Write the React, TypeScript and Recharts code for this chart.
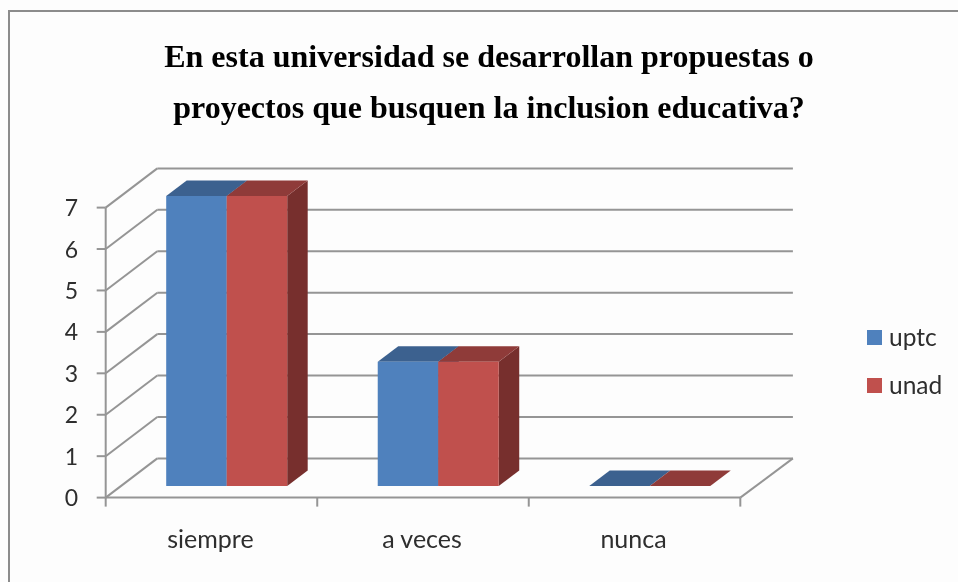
import React from "react";
import { BarChart, Bar, XAxis, YAxis, CartesianGrid, Legend } from "recharts";

const categories = ["siempre", "a veces", "nunca"];
const uptcValues = [7, 3, 0];
const unadValues = [7, 3, 0];
const yTicks = [0, 1, 2, 3, 4, 5, 6, 7];
const titleLines = [
  "En esta universidad se desarrollan propuestas o",
  "proyectos que busquen la inclusion educativa?",
];

const rows = categories.map((name, i) => ({ name, uptc: uptcValues[i], unad: unadValues[i] }));

const W = 958;
const H = 582;
const PLOT_LEFT = 121.2;
const PLOT_RIGHT = 755.8;
const PLOT_TOP = 196;
const PLOT_BOTTOM = 486;
const BAND = (PLOT_RIGHT - PLOT_LEFT) / categories.length;

// wall projection relative to the plane in which bars stand
const FRONT_DX = -15.5;
const FRONT_DY = 11.6;
const BACK_DY = -27.6;
const DEPTH_X = 20.5;
const DEPTH_Y = 15.5;
const GRID = "#959595";
const TEXT = "#2e2e2e";
const FONT = "Lato, Carlito, sans-serif";

const wallLine = (props: any) => {
  const y = props.y1;
  const left = props.x1 + FRONT_DX;
  const right = props.x2 + FRONT_DX;
  const fy = y + FRONT_DY;
  const by = y + BACK_DY;
  const isFloor = Math.abs(y - PLOT_BOTTOM) < 0.5;
  return (
    <g key={`wall-${y}`} stroke={GRID} strokeWidth={2} fill="none">
      <line x1={left + 51.6} y1={by} x2={right + 51.6 + 1} y2={by} />
      <line x1={left} y1={fy} x2={left + 51.6} y2={by} />
      <line x1={left - 9} y1={fy} x2={left} y2={fy} />
      {!isFloor && <line x1={left} y1={fy} x2={left} y2={fy + (PLOT_BOTTOM - PLOT_TOP) / 7} />}
      {isFloor && (
        <>
          <line x1={left} y1={fy} x2={right} y2={fy} />
          <line x1={right} y1={fy} x2={right + 52.6} y2={by} />
          <line x1={left} y1={fy} x2={left} y2={fy + 9} />
        </>
      )}
    </g>
  );
};

const YTick = (props: any) => (
  <text x={78} y={props.y + FRONT_DY + 8.5} textAnchor="end" fontFamily={FONT} fontSize={23} fill={TEXT}>
    {props.payload.value}
  </text>
);

const XTick = (props: any) => {
  const cx = props.x + FRONT_DX;
  const tickY = PLOT_BOTTOM + FRONT_DY;
  return (
    <g>
      <line x1={cx + BAND / 2} y1={tickY} x2={cx + BAND / 2} y2={tickY + 9} stroke={GRID} strokeWidth={2} />
      <text x={cx - 1} y={548} textAnchor="middle" fontFamily={FONT} fontSize={25} fill={TEXT}>
        {props.payload.value}
      </text>
    </g>
  );
};

const bar3d = (top: string, side: string) => (props: any) => {
  const { x, y, width, height, fill } = props;
  const dx = DEPTH_X;
  const dy = DEPTH_Y;
  return (
    <g>
      {height > 0 && (
        <polygon
          points={`${x + width},${y} ${x + width + dx},${y - dy} ${x + width + dx},${y + height - dy} ${x + width},${y + height}`}
          fill={side}
        />
      )}
      <polygon
        points={`${x},${y} ${x + dx},${y - dy} ${x + width + dx},${y - dy} ${x + width},${y}`}
        fill={top}
      />
      {height > 0 && <rect x={x} y={y} width={width} height={height} fill={fill} />}
    </g>
  );
};

const LegendBox = (props: any) => (
  <div>
    {props.payload.map((p: any) => (
      <div key={p.value} style={{ display: "flex", alignItems: "center", height: 48 }}>
        <span style={{ width: 15, height: 15, background: p.color, display: "inline-block", marginRight: 7 }} />
        <span style={{ fontFamily: FONT, fontSize: 24.5, color: TEXT, lineHeight: "24px" }}>{p.value}</span>
      </div>
    ))}
  </div>
);

export default function App() {
  return (
    <div style={{ position: "fixed", left: 0, top: 0, width: W, height: H, overflow: "hidden", background: "#fdfdfd", filter: "blur(0.45px)" }}>
      <div
        style={{
          position: "absolute",
          left: 8,
          top: 10,
          width: 960,
          height: 640,
          borderTop: "2.5px solid #8c8c8c",
          borderLeft: "2.5px solid #8c8c8c",
        }}
      />
      {titleLines.map((line, i) => (
        <div
          key={line}
          style={{
            position: "absolute",
            left: 0,
            width: 978,
            top: 37 + i * 51,
            textAlign: "center",
            fontFamily: "'Liberation Serif', serif",
            fontWeight: 700,
            fontSize: 32,
            lineHeight: "38px",
            color: "#000",
            whiteSpace: "nowrap",
          }}
        >
          {line}
        </div>
      ))}
      <div style={{ position: "absolute", left: 0, top: 0 }}>
        <BarChart
          width={W}
          height={H}
          data={rows}
          margin={{ left: PLOT_LEFT - 60, right: W - PLOT_RIGHT, top: PLOT_TOP, bottom: H - PLOT_BOTTOM - 60 }}
          barSize={60.5}
          barGap={0}
        >
          <CartesianGrid horizontal={wallLine} vertical={false} />
          <XAxis dataKey="name" height={60} axisLine={false} tickLine={false} tick={XTick} interval={0} />
          <YAxis
            width={60}
            domain={[0, 7]}
            ticks={yTicks}
            interval={0}
            axisLine={false}
            tickLine={false}
            tick={YTick}
          />
          <Legend
            layout="vertical"
            align="center"
            verticalAlign="middle"
            content={LegendBox}
            itemSorter={null}
            wrapperStyle={{ left: 867, top: 313, width: 85, height: 96 }}
          />
          <Bar dataKey="uptc" fill="#4F81BD" shape={bar3d("#3C618F", "#3C618F")} isAnimationActive={false} />
          <Bar dataKey="unad" fill="#C0504D" shape={bar3d("#8F3B39", "#772F2D")} isAnimationActive={false} />
        </BarChart>
      </div>
    </div>
  );
}
